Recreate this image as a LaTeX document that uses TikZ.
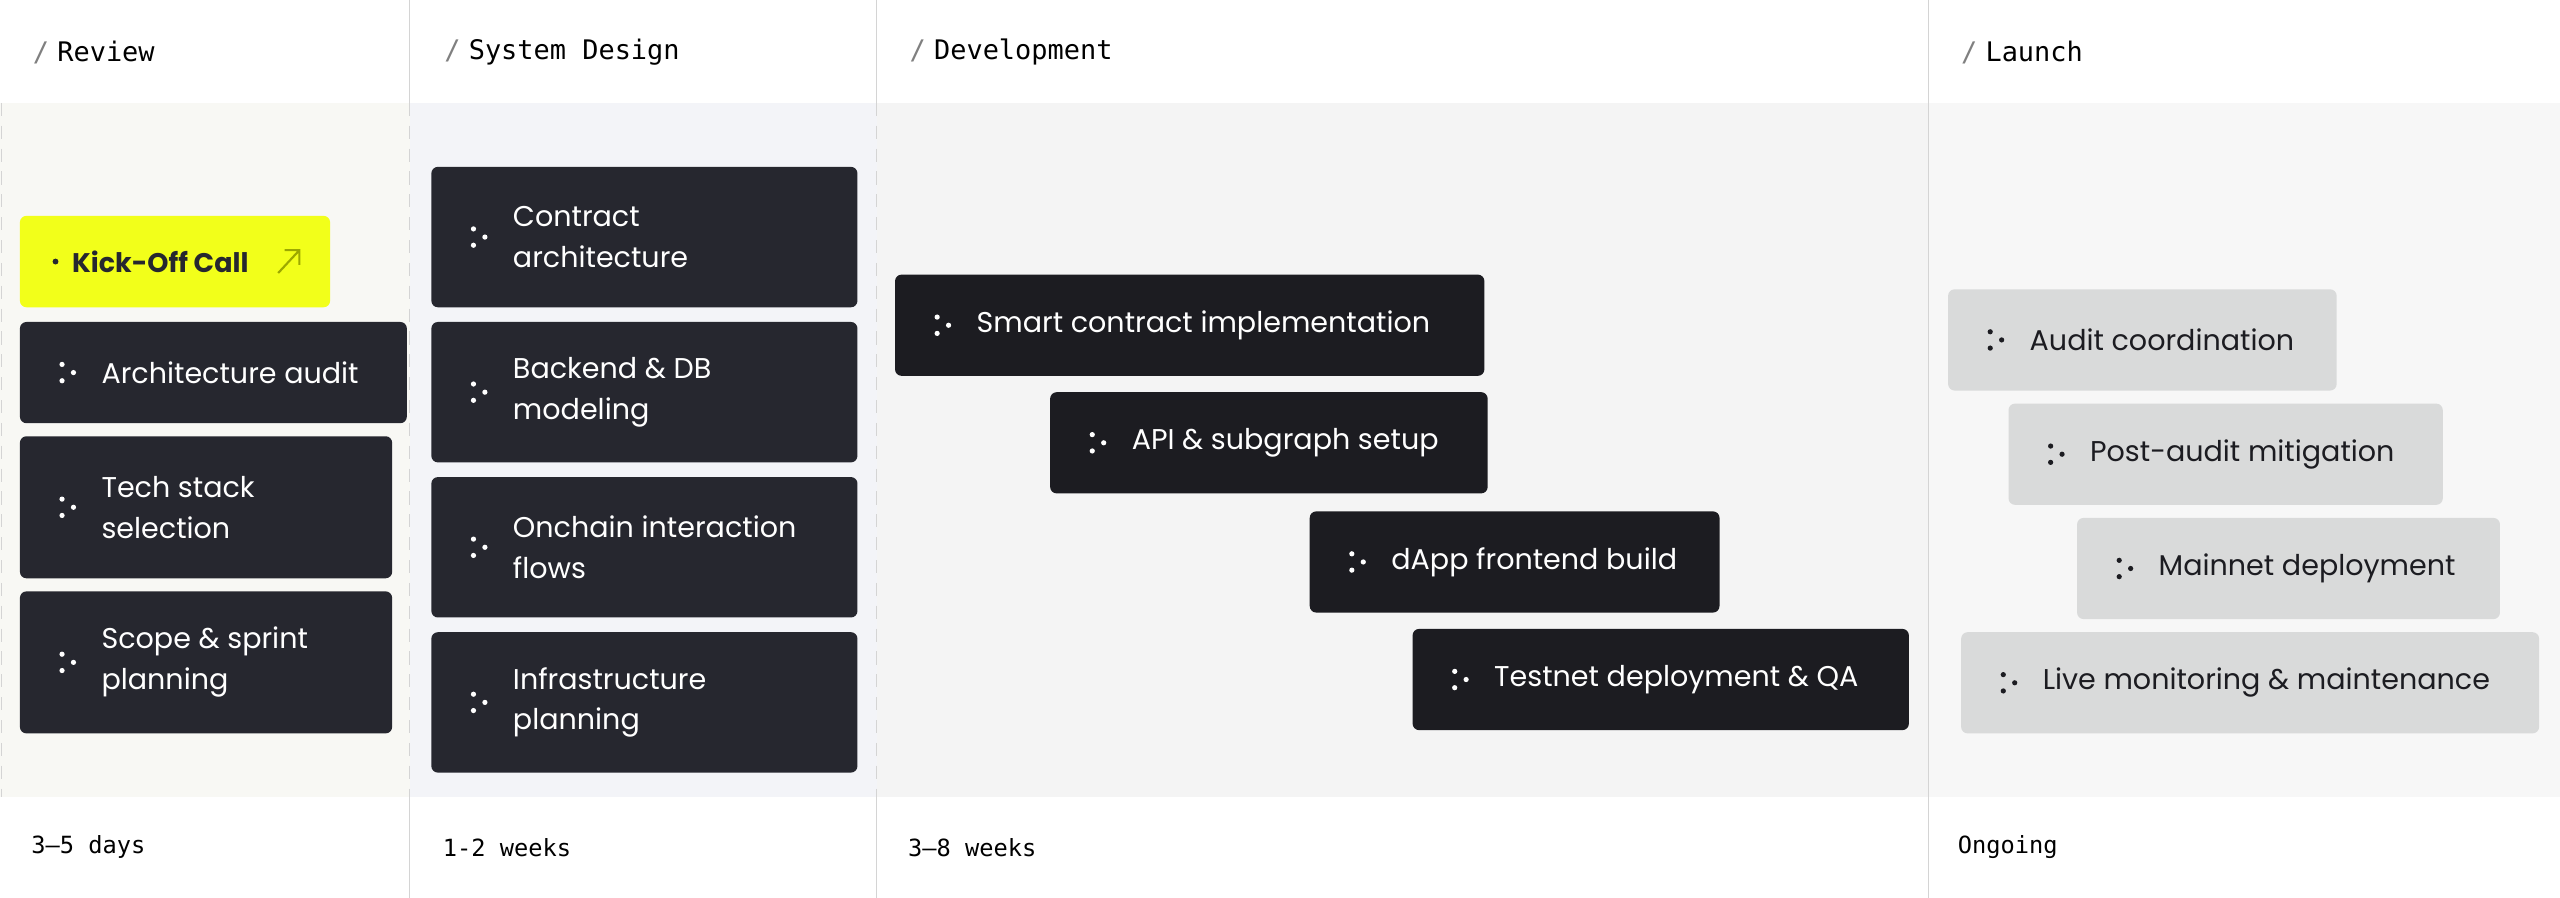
\documentclass[tikz,border=0pt]{standalone}
\usepackage{fontspec}
\setmainfont{Poppins}
\setmonofont{DejaVu Sans Mono}
\definecolor{ink}{HTML}{26272F}
\definecolor{inkdev}{HTML}{1C1C21}
\definecolor{lgray}{HTML}{D9DADA}
\definecolor{kick}{HTML}{F2FF1A}
\definecolor{kickarrow}{HTML}{9CA800}
\definecolor{rule}{HTML}{D4D4D4}
\definecolor{bgreview}{HTML}{F8F8F4}
\definecolor{bgdesign}{HTML}{F3F4F8}
\definecolor{bgdev}{HTML}{F4F4F4}
\definecolor{bglaunch}{HTML}{F7F7F7}
\tikzset{
  box/.style={rounded corners=4pt, inner sep=0pt, anchor=north west},
  label/.style={anchor=west, align=left, inner sep=0pt, font=\fontsize{17.5}{25}\selectfont},
  head/.style={anchor=west, inner sep=0pt, font=\ttfamily\fontsize{16.5}{18}\selectfont},
  foot/.style={anchor=west, inner sep=0pt, font=\ttfamily\fontsize{14.5}{16}\selectfont},
}
% \task{name}{x}{y}{width}{height}{fill}{text colour}{text}
\newcommand\task[8]{%
  \node[box, fill=#6, minimum width=#4pt, minimum height=#5pt] (#1) at (#2,#3) {};
  \node[label, text=#7] (#1-t) at ([xshift=50pt]#1.west) {#8};
  \fill[#7] ([xshift=26pt,yshift=5pt]#1.west) circle (1.6pt)
            ([xshift=26pt,yshift=-5pt]#1.west) circle (1.6pt)
            ([xshift=33pt]#1.west) circle (1.6pt);
}
\begin{document}
\begin{tikzpicture}[x=1pt,y=-1pt]
  \useasboundingbox (0,0) rectangle (1568,550);
  % backgrounds
  \fill[white] (0,0) rectangle (1568,550);
  \fill[bgreview] (0,63) rectangle (251,488);
  \fill[bgdesign] (251,63) rectangle (537,488);
  \fill[bgdev] (537,63) rectangle (1181,488);
  \fill[bglaunch] (1181,63) rectangle (1568,488);
  \draw[rule, dash pattern=on 8pt off 6pt] (1,63) -- (1,488) (251,63) -- (251,488) (537,63) -- (537,488);
  \draw[rule] (251,0) -- (251,63) (251,488) -- (251,550) (537,0) -- (537,63) (537,488) -- (537,550) (1181,0) -- (1181,550);
  % headers
  \foreach \x/\t in {20/Review, 272/System Design, 557/Development, 1201/Launch}
    \node[head] at (\x,32) {\textcolor{gray}{/}\hspace{5pt}\t};
  \node[foot] (d1) at (19,519) {3–5 days};
  \node[foot] (d2) at (271,519) {1-2 weeks};
  \node[foot] (d3) at (556,519) {3–8 weeks};
  \node[foot] (d4) at (1199,519) {Ongoing};
  % review
  \node[box, fill=kick, minimum width=190pt, minimum height=56pt] (kick) at (12,132) {};
  \fill[ink] ([xshift=22pt]kick.west) circle (1.8pt);
  \node[label, text=ink, font=\bfseries\fontsize{16.5}{24}\selectfont] (kick-t) at ([xshift=32pt]kick.west) {Kick-Off Call};
  \draw[kickarrow, line width=1.3pt] ([xshift=-32pt,yshift=-7pt]kick.east) -- ([xshift=-19pt,yshift=7pt]kick.east)
        ([xshift=-28pt,yshift=7pt]kick.east) -- ([xshift=-19pt,yshift=7pt]kick.east) -- ([xshift=-19pt,yshift=-2pt]kick.east);
  \task{arch}{12}{197}{237}{62}{ink}{white}{Architecture audit}
  \task{tech}{12}{267}{228}{87}{ink}{white}{Tech stack\\selection}
  \task{scope}{12}{362}{228}{87}{ink}{white}{Scope \& sprint\\planning}
  % system design
  \task{contract}{264}{102}{261}{86}{ink}{white}{Contract\\architecture}
  \task{backend}{264}{197}{261}{86}{ink}{white}{Backend \& DB\\modeling}
  \task{onchain}{264}{292}{261}{86}{ink}{white}{Onchain interaction\\flows}
  \task{infra}{264}{387}{261}{86}{ink}{white}{Infrastructure\\planning}
  % development
  \task{smart}{548}{168}{361}{62}{inkdev}{white}{Smart contract implementation}
  \task{api}{643}{240}{268}{62}{inkdev}{white}{API \& subgraph setup}
  \task{dapp}{802}{313}{251}{62}{inkdev}{white}{dApp frontend build}
  \task{testnet}{865}{385}{304}{62}{inkdev}{white}{Testnet deployment \& QA}
  % launch
  \task{audit}{1193}{177}{238}{62}{lgray}{inkdev}{Audit coordination}
  \task{post}{1230}{247}{266}{62}{lgray}{inkdev}{Post-audit mitigation}
  \task{mainnet}{1272}{317}{259}{62}{lgray}{inkdev}{Mainnet deployment}
  \task{live}{1201}{387}{354}{62}{lgray}{inkdev}{Live monitoring \& maintenance}
\end{tikzpicture}
\end{document}
